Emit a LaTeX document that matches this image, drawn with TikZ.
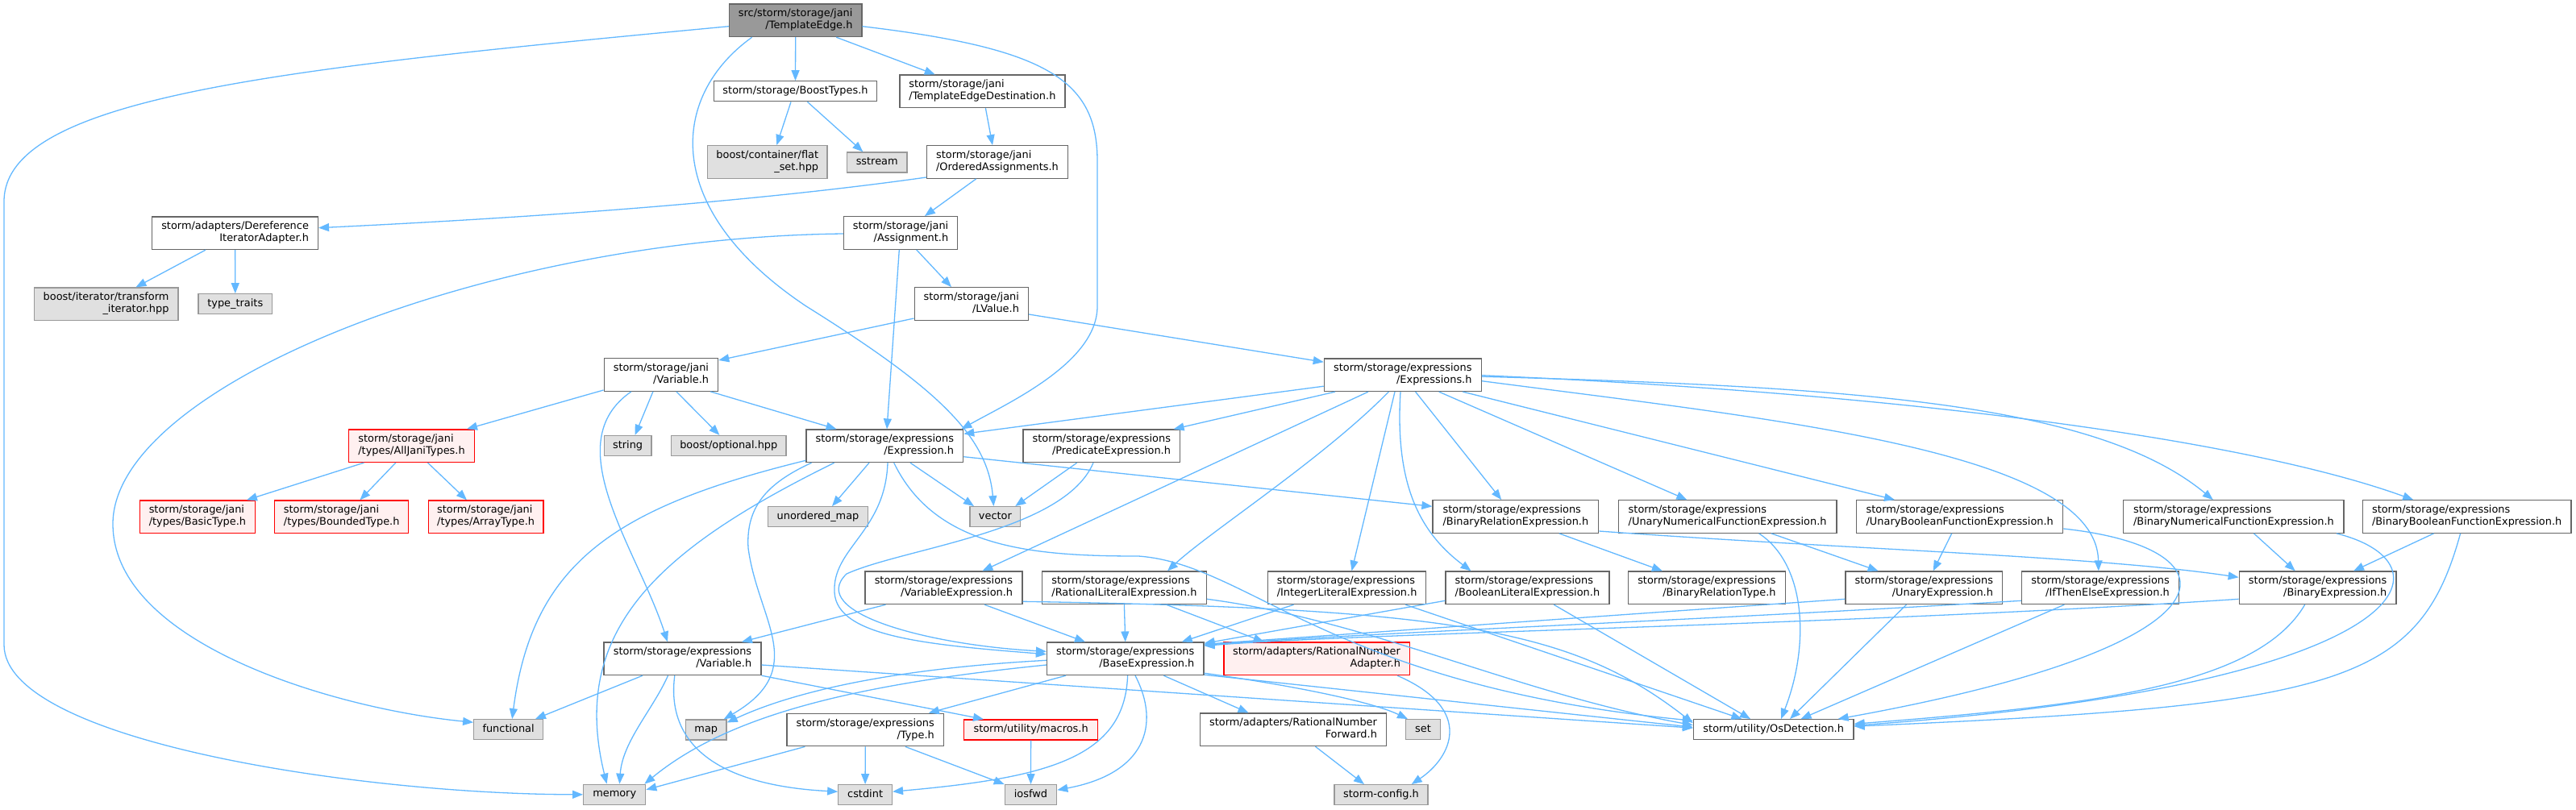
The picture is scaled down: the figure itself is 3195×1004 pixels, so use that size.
\documentclass[tikz,border=0pt]{standalone}
\usepackage{fontspec}
\setmainfont{DejaVu Sans}
\usetikzlibrary{arrows.meta,calc}
\definecolor{edgec}{HTML}{63B8FF}
\definecolor{bordc}{HTML}{666666}
\definecolor{grayfill}{HTML}{E0E0E0}
\definecolor{grayb}{HTML}{999999}
\definecolor{rootfill}{HTML}{999999}
\definecolor{redfill}{HTML}{FFF0F0}
\newcommand\twol[2]{\begin{tabular}{@{}l@{}}#1\\\hfill#2\hfill\end{tabular}}
\begin{document}
\begin{tikzpicture}[x=1pt,y=-1pt,
  nd/.style={draw=bordc, fill=white, line width=1.3pt, inner sep=0pt, minimum height=25pt,
     font=\fontsize{12.9}{15}\selectfont, execute at begin node=\strut},
  two/.style={minimum height=40.5pt},
  gn/.style={nd, fill=grayfill, draw=grayb},
  rn/.style={nd, fill=redfill, draw=red},
  rt/.style={nd, fill=rootfill, draw=bordc},
  edg/.style={draw=edgec, line width=1.3pt, -{Triangle[length=13pt,width=10pt]}}]
\useasboundingbox (0,0) rectangle (3195,1004);
% nodes
\node[rt,two,minimum width=164.3pt] (te) at (986.7,25.3) {\twol{src/storm/storage/jani}{/TemplateEdge.h}};
\node[nd,minimum width=202.6pt] (boost) at (986.5,113.3) {storm/storage/BoostTypes.h};
\node[nd,two,minimum width=205.1pt] (ted) at (1218.4,113.3) {\twol{storm/storage/jani}{/TemplateEdgeDestination.h}};
\node[gn,two,minimum width=148.5pt] (flat) at (951.8,201) {\twol{boost/container/flat}{\_set.hpp}};
\node[gn,minimum width=74.5pt] (sstr) at (1087.7,201.5) {sstream};
\node[nd,two,minimum width=175pt] (oa) at (1237,201) {\twol{storm/storage/jani}{/OrderedAssignments.h}};
\node[nd,two,minimum width=205.6pt] (deref) at (291.6,289.2) {\twol{storm/adapters/Dereference}{IteratorAdapter.h}};
\node[gn,two,minimum width=178.6pt] (ti) at (131.6,377.3) {\twol{boost/iterator/transform}{\_iterator.hpp}};
\node[gn,minimum width=91.8pt] (tt) at (291.8,377.3) {type\_traits};
\node[nd,two,minimum width=141.4pt] (asg) at (1117.1,289) {\twol{storm/storage/jani}{/Assignment.h}};
\node[nd,two,minimum width=141.3pt] (lv) at (1204.8,377) {\twol{storm/storage/jani}{/LValue.h}};
\node[nd,two,minimum width=141.5pt] (jvar) at (819.9,465) {\twol{storm/storage/jani}{/Variable.h}};
\node[nd,two,minimum width=194.9pt] (exs) at (1739.8,465.2) {\twol{storm/storage/expressions}{/Expressions.h}};
\node[rn,two,minimum width=155.6pt] (ajt) at (510.5,553.2) {\twol{storm/storage/jani}{/types/AllJaniTypes.h}};
\node[gn,minimum width=58.9pt] (str) at (778.6,553) {string};
\node[gn,minimum width=142.4pt] (bopt) at (903.8,553) {boost/optional.hpp};
\node[nd,two,minimum width=194.6pt] (expr) at (1097.3,553.3) {\twol{storm/storage/expressions}{/Expression.h}};
\node[nd,two,minimum width=194.9pt] (pred) at (1366.3,553.3) {\twol{storm/storage/expressions}{/PredicateExpression.h}};
\node[rn,two,minimum width=142.8pt] (bt) at (244.9,641.3) {\twol{storm/storage/jani}{/types/BasicType.h}};
\node[rn,two,minimum width=165.8pt] (bdt) at (423.7,641.3) {\twol{storm/storage/jani}{/types/BoundedType.h}};
\node[rn,two,minimum width=142.9pt] (arrt) at (602.6,641.3) {\twol{storm/storage/jani}{/types/ArrayType.h}};
\node[gn,minimum width=124pt] (umap) at (1014.5,641.2) {unordered\_map};
\node[gn,minimum width=62.8pt] (vec) at (1234.4,641.2) {vector};
\node[nd,two,minimum width=205.7pt] (bre) at (1879.9,641) {\twol{storm/storage/expressions}{/BinaryRelationExpression.h}};
\node[nd,two,minimum width=270.9pt] (unfe) at (2142.6,641) {\twol{storm/storage/expressions}{/UnaryNumericalFunctionExpression.h}};
\node[nd,two,minimum width=256.1pt] (ubfe) at (2430.7,641) {\twol{storm/storage/expressions}{/UnaryBooleanFunctionExpression.h}};
\node[nd,two,minimum width=273.3pt] (bnfe) at (2770.4,641) {\twol{storm/storage/expressions}{/BinaryNumericalFunctionExpression.h}};
\node[nd,two,minimum width=258.6pt] (bbfe) at (3059.6,641) {\twol{storm/storage/expressions}{/BinaryBooleanFunctionExpression.h}};
\node[nd,two,minimum width=194.9pt] (vare) at (1170.4,729.3) {\twol{storm/storage/expressions}{/VariableExpression.h}};
\node[nd,two,minimum width=204.1pt] (rle) at (1394.4,729.3) {\twol{storm/storage/expressions}{/RationalLiteralExpression.h}};
\node[nd,two,minimum width=195.8pt] (ile) at (1670.6,729.3) {\twol{storm/storage/expressions}{/IntegerLiteralExpression.h}};
\node[nd,two,minimum width=203pt] (ble) at (1894.4,729.3) {\twol{storm/storage/expressions}{/BooleanLiteralExpression.h}};
\node[nd,two,minimum width=194.9pt] (brt) at (2116.9,729.3) {\twol{storm/storage/expressions}{/BinaryRelationType.h}};
\node[nd,two,minimum width=194.9pt] (ue) at (2386.3,729.3) {\twol{storm/storage/expressions}{/UnaryExpression.h}};
\node[nd,two,minimum width=195.2pt] (ite) at (2605.1,729.3) {\twol{storm/storage/expressions}{/IfThenElseExpression.h}};
\node[nd,two,minimum width=194.7pt] (be) at (2874.6,729.3) {\twol{storm/storage/expressions}{/BinaryExpression.h}};
\node[nd,two,minimum width=194.9pt] (evar) at (846.5,817.3) {\twol{storm/storage/expressions}{/Variable.h}};
\node[nd,two,minimum width=194.4pt] (base) at (1395.7,817.3) {\twol{storm/storage/expressions}{/BaseExpression.h}};
\node[rn,two,minimum width=230.3pt] (rna) at (1633,817.3) {\twol{storm/adapters/RationalNumber}{Adapter.h}};
\node[gn,minimum width=85.7pt] (func) at (630.6,905.2) {functional};
\node[gn,minimum width=50.5pt] (map) at (875.8,905.5) {map};
\node[nd,two,minimum width=194.4pt] (type) at (1073.2,905.5) {\twol{storm/storage/expressions}{/Type.h}};
\node[rn,minimum width=166.3pt] (mac) at (1278.6,905.5) {storm/utility/macros.h};
\node[nd,two,minimum width=230.8pt] (rnf) at (1604,905.3) {\twol{storm/adapters/RationalNumber}{Forward.h}};
\node[gn,minimum width=42.7pt] (set) at (1765,905.2) {set};
\node[nd,minimum width=198.5pt] (os) at (2199.7,905.2) {storm/utility/OsDetection.h};
\node[gn,minimum width=77pt] (mem) at (762.2,985.8) {memory};
\node[gn,minimum width=66.6pt] (cstd) at (1073.1,986.2) {cstdint};
\node[gn,minimum width=64.3pt] (iosf) at (1278.5,986.2) {iosfwd};
\node[gn,minimum width=116.1pt] (cfg) at (1713,986.2) {storm-config.h};
% edges
\draw[edg] ($(te.west)+(0,7.4)$) .. controls (350,85) and (5,120) .. (5,250) -- (5,800) .. controls (5,920) and (450,985.5) .. (mem.west);
\draw[edg] (te.south) -- (boost.north);
\draw[edg] ($(te.south)+(50.5,0)$) -- ($(ted.north)+(-58.7,0)$);
\draw[edg] ($(te.south)+(-54,0)$) .. controls (830,120) and (820,260) .. (1000,380) .. controls (1160,480) and (1225,540) .. ($(vec.north)+(-2,0)$);
\draw[edg] ($(te.east)+(0,7.4)$) .. controls (1300,60) and (1361,100) .. (1361,200) -- (1361,380) .. controls (1361,450) and (1250,500) .. ($(expr.north)+(95,0)$);
\draw[edg] ($(boost.south)+(-5.5,0)$) -- ($(flat.north)+(11.5,0)$);
\draw[edg] ($(boost.south)+(15,0)$) -- ($(sstr.north)+(-17.3,0)$);
\draw[edg] ($(ted.south)+(4,0)$) -- ($(oa.north)+(-6,0)$);
\draw[edg] ($(oa.west)+(0,19)$) .. controls (950,248) and (700,268) .. ($(deref.east)+(0,-6.5)$);
\draw[edg] ($(oa.south)+(-26.3,0)$) -- ($(asg.north)+(29.8,0)$);
\draw[edg] ($(deref.south)+(-36.6,0)$) -- ($(ti.north)+(36.8,0)$);
\draw[edg] (deref.south) -- (tt.north);
\draw[edg] ($(asg.west)+(0,1)$) .. controls (600,295) and (140,480) .. (140,650) .. controls (140,800) and (420,880) .. ($(func.west)+(0,-9)$);
\draw[edg] ($(asg.south)+(-1.8,0)$) -- ($(expr.north)+(2.7,0)$);
\draw[edg] ($(asg.south)+(19.6,0)$) -- ($(lv.north)+(-24.8,0)$);
\draw[edg] ($(lv.west)+(0,18)$) -- ($(jvar.east)+(0,-18)$);
\draw[edg] ($(lv.east)+(0,13)$) -- ($(exs.west)+(0,-16)$);
\draw[edg] ($(jvar.west)+(0,19)$) -- ($(ajt.north)+(68.5,0)$);
\draw[edg] ($(jvar.south)+(-10,0)$) -- ($(str.north)+(9,0)$);
\draw[edg] ($(jvar.south)+(19,0)$) -- ($(bopt.north)+(-11.4,0)$);
\draw[edg] ($(jvar.south)+(61.3,0)$) -- ($(expr.north)+(-59.8,0)$);
\draw[edg] ($(jvar.south)+(-37,0)$) .. controls (690,550) and (790,680) .. ($(evar.north)+(-18.5,0)$);
\draw[edg] ($(ajt.south)+(-59,0)$) -- ($(bt.north)+(61,0)$);
\draw[edg] ($(ajt.south)+(-19.7,0)$) -- ($(bdt.north)+(22.7,0)$);
\draw[edg] ($(ajt.south)+(20,0)$) -- ($(arrt.north)+(-23.6,0)$);
\draw[edg] ($(exs.west)+(0,14)$) -- ($(expr.east)+(0,-15)$);
\draw[edg] ($(exs.south)+(-83.8,0)$) -- ($(pred.north)+(89.3,0)$);
\draw[edg] ($(exs.south)+(-42.8,0)$) -- ($(vare.north)+(48,0)$);
\draw[edg] ($(exs.south)+(-17.4,0)$) .. controls (1640,570) and (1500,660) .. ($(rle.north)+(53.6,0)$);
\draw[edg] ($(exs.south)+(-9.8,0)$) -- ($(ile.north)+(5.9,0)$);
\draw[edg] ($(exs.south)+(-2.8,0)$) .. controls (1730,600) and (1760,660) .. ($(ble.north)+(-69.9,0)$);
\draw[edg] ($(exs.south)+(15.8,0)$) -- ($(bre.north)+(-17.7,0)$);
\draw[edg] ($(exs.south)+(44.9,0)$) -- ($(unfe.north)+(-50.3,0)$);
\draw[edg] ($(exs.south)+(74.5,0)$) -- ($(ubfe.north)+(-80.7,0)$);
\draw[edg] ($(exs.east)+(0,7.5)$) .. controls (2200,520) and (2600,560) .. ($(ite.north)+(-2.3,0)$);
\draw[edg] ($(exs.east)+(0,2)$) .. controls (2300,480) and (2600,500) .. ($(bnfe.north)+(-25.6,0)$);
\draw[edg] ($(exs.east)+(0,0.5)$) .. controls (2400,490) and (2800,550) .. ($(bbfe.north)+(-66.4,0)$);
\draw[edg] ($(expr.west)+(0,18)$) .. controls (760,630) and (660,700) .. ($(func.north)+(4.6,0)$);
\draw[edg] ($(expr.south)+(-62.6,0)$) .. controls (820,680) and (705,780) .. ($(mem.north)+(-9.6,0)$);
\draw[edg] ($(expr.south)+(-90.7,0)$) .. controls (950,600) and (925,630) .. (928,680) .. controls (940,770) and (1005,830) .. ($(map.north east)+(-4,0)$);
\draw[edg] ($(expr.south)+(-19.3,0)$) -- ($(umap.north)+(17.5,0)$);
\draw[edg] ($(expr.south)+(31.7,0)$) -- ($(vec.north)+(-26.4,0)$);
\draw[edg] ($(expr.south)+(3.7,0)$) .. controls (1098,660) and (1032,680) .. (1035,735) .. controls (1038,790) and (1150,800) .. ($(base.west)+(0,-5.6)$);
\draw[edg] ($(expr.south)+(11.4,0)$) .. controls (1160,680) and (1280,690) .. (1412,690) .. controls (1550,700) and (1650,850) .. ($(os.west)+(0,-11)$);
\draw[edg] ($(expr.east)+(0,13.4)$) -- ($(bre.west)+(0,-12.7)$);
\draw[edg] ($(pred.south)+(-30.6,0)$) -- ($(vec.north)+(24.8,0)$);
\draw[edg] ($(pred.south)+(-10.3,0)$) .. controls (1320,660) and (1120,680) .. (1050,712) .. controls (1000,760) and (1150,800) .. ($(base.west)+(0,-9)$);
\draw[edg] ($(vare.south)+(-71.9,0)$) -- ($(evar.north)+(73.4,0)$);
\draw[edg] ($(vare.south)+(50.6,0)$) -- ($(base.north)+(-49.7,0)$);
\draw[edg] ($(vare.east)+(0,17)$) .. controls (1800,755) and (1950,780) .. ($(os.west)+(0,-8)$);
\draw[edg] (rle.south) -- (base.north);
\draw[edg] ($(rle.south)+(52.1,0)$) -- ($(rna.north)+(-65.4,0)$);
\draw[edg] ($(rle.east)+(0,14)$) .. controls (1700,770) and (1880,860) .. ($(os.west)+(0,-5.5)$);
\draw[edg] ($(ile.south)+(-66,0)$) -- ($(base.north)+(70,0)$);
\draw[edg] ($(ile.south)+(72.4,0)$) -- ($(os.north)+(-39.3,0)$);
\draw[edg] ($(ble.west)+(0,16)$) -- ($(base.east)+(0,-19)$);
\draw[edg] ($(ble.south)+(32.8,0)$) -- ($(os.north)+(-28.7,0)$);
\draw[edg] ($(bre.south)+(54,0)$) -- ($(brt.north)+(-55,0)$);
\draw[edg] ($(bre.east)+(0,18)$) .. controls (2300,682) and (2600,690) .. ($(be.west)+(0,-13)$);
\draw[edg] ($(unfe.south)+(54.4,0)$) -- ($(ue.north)+(-56.7,0)$);
\draw[edg] ($(unfe.south)+(39,0)$) .. controls (2240,700) and (2245,800) .. ($(os.north)+(9.3,0)$);
\draw[edg] ($(ubfe.south)+(-10,0)$) -- ($(ue.north)+(11.4,0)$);
\draw[edg] ($(ubfe.east)+(0,15)$) .. controls (2780,680) and (2790,800) .. ($(os.north east)+(-20,0)$);
\draw[edg] ($(ue.west)+(0,14)$) -- ($(base.east)+(0,-18)$);
\draw[edg] ($(ue.south)+(-21.8,0)$) -- ($(os.north)+(20.3,0)$);
\draw[edg] ($(ite.west)+(0,16)$) .. controls (2100,770) and (1700,785) .. ($(base.east)+(0,-17)$);
\draw[edg] ($(ite.south)+(-44.7,0)$) -- ($(os.north)+(33.8,0)$);
\draw[edg] ($(be.west)+(0,14)$) .. controls (2300,775) and (1700,785) .. ($(base.east)+(0,-16)$);
\draw[edg] ($(be.south)+(-15.9,0)$) .. controls (2800,850) and (2600,875) .. ($(os.east)+(0,-7)$);
\draw[edg] ($(bnfe.south)+(25.1,0)$) -- ($(be.north)+(-27.9,0)$);
\draw[edg] ($(bnfe.south)+(127.6,0)$) .. controls (3050,700) and (3000,850) .. ($(os.east)+(0,-5)$);
\draw[edg] ($(bbfe.south)+(-41.1,0)$) -- ($(be.north)+(44.4,0)$);
\draw[edg] ($(bbfe.south)+(-8,0)$) .. controls (3000,850) and (2900,875) .. ($(os.east)+(0,-4)$);
\draw[edg] ($(evar.south)+(-49.5,0)$) -- ($(func.north east)+(-10.2,0)$);
\draw[edg] ($(evar.south)+(-18,0)$) .. controls (810,880) and (772,920) .. ($(mem.north)+(6.2,0)$);
\draw[edg] ($(evar.south)+(-9.7,0)$) .. controls (825,930) and (900,975) .. ($(cstd.west)+(0,-4)$);
\draw[edg] (evar.south east) -- ($(mac.north)+(-58.6,0)$);
\draw[edg] ($(evar.east)+(0,7.7)$) -- ($(os.west)+(0,-2)$);
\draw[edg] ($(base.south)+(-73.7,0)$) -- ($(type.north)+(78.6,0)$);
\draw[edg] ($(base.south)+(47.6,0)$) -- ($(rnf.north)+(-55.5,0)$);
\draw[edg] ($(base.south)+(2.9,0)$) .. controls (1395,940) and (1300,965) .. ($(cstd.east)+(0,-4)$);
\draw[edg] ($(base.south)+(12.3,0)$) .. controls (1440,900) and (1420,960) .. ($(iosf.east)+(0,-6)$);
\draw[edg] ($(base.west)+(0,2)$) .. controls (1100,830) and (980,860) .. ($(map.east)+(0,-9)$);
\draw[edg] ($(base.west)+(0,7.7)$) .. controls (1050,850) and (900,890) .. ($(mem.north east)+(-2,0)$);
\draw[edg] ($(base.south east)+(0,-3)$) .. controls (1600,850) and (1700,870) .. ($(set.north west)+(3,0)$);
\draw[edg] ($(base.south east)+(0,-1)$) -- ($(os.west)+(0,-3)$);
\draw[edg] ($(rna.south)+(100,0)$) .. controls (1830,880) and (1800,940) .. ($(cfg.north east)+(-21,0)$);
\draw[edg] ($(rnf.south)+(27.4,0)$) -- ($(cfg.north)+(-21,0)$);
\draw[edg] ($(type.south)+(-74.8,0)$) -- ($(mem.east)+(0,-6)$);
\draw[edg] (type.south) -- (cstd.north);
\draw[edg] ($(type.south)+(49.6,0)$) -- (iosf.north west);
\draw[edg] (mac.south) -- (iosf.north);
\end{tikzpicture}
\end{document}
